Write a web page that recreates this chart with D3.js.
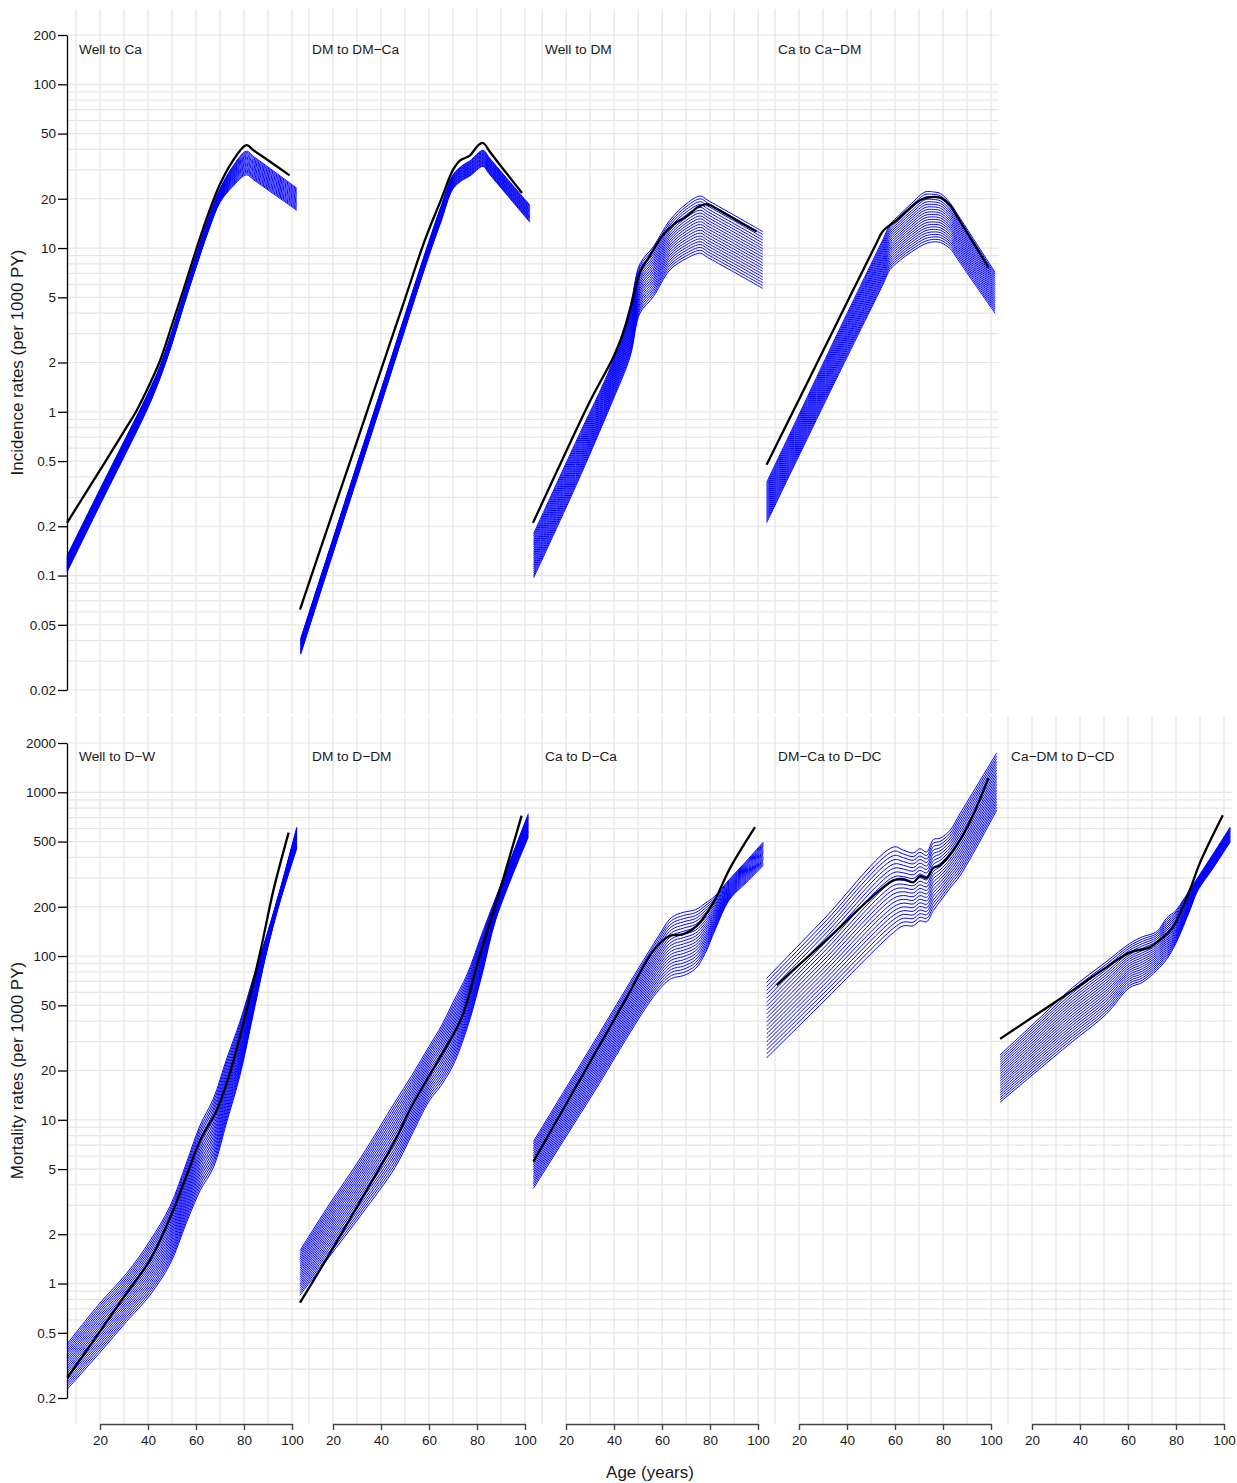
<!DOCTYPE html>
<html><head><meta charset="utf-8">
<script src="https://cdn.jsdelivr.net/npm/d3@7"></script>
<style>body{margin:0;background:#fff}</style>
</head><body>
<script>
// ---------- axis tick values ----------
const ageTicks = [20, 40, 60, 80, 100];
const gridAges = [10, 20, 30, 40, 50, 60, 70, 80, 90, 100];
const incidenceTicks = [0.02, 0.05, 0.1, 0.2, 0.5, 1, 2, 5, 10, 20, 50, 100, 200];
const mortalityTicks = [0.2, 0.5, 1, 2, 5, 10, 20, 50, 100, 200, 500, 1000, 2000];
const blueLevels = [0,0.05,0.1,0.15,0.2,0.25,0.3,0.35,0.4,0.45,0.5,0.55,0.6,0.65,0.7,0.75,0.8,0.85,0.9,0.95,1];

// ---------- Well to Ca ----------
const wellCaBlackAge = [6.25,20,30,35,40,45,50,55,60,65,70,75,81,84,90,99];
const wellCaBlackRate = [0.21,0.44,0.76,1.0,1.4,2.05,3.4,5.7,9.7,16,24.5,33.5,42.5,39.5,34.4,27.8];
const wellCaBlueAge = [6.25,20,30,40,45,50,55,60,65,70,75,81,84,91,102];
const wellCaBlueHigh = [0.132,0.337,0.66,1.3,1.9,3.1,5.3,9.0,15,23,31,39,36.2,30.5,23.2];
const wellCaBlueLow = [0.105,0.27,0.53,1.06,1.6,2.6,4.5,7.6,12.5,19,23.5,28,26.1,22.1,17];

// ---------- DM to DM-Ca ----------
const dmDmcaBlackAge = [6.25,20,30,40,50,58.3,65,70,73,77,80.5,82.5,85.5,90,98.75];
const dmDmcaBlackRate = [0.062,0.245,0.66,1.8,4.9,11.2,19.7,30,34.3,36.7,42.4,43.8,38.5,31.6,21.7];
const dmDmcaBlueAge = [6.5,20,40,50,60,65,70,74,77,82.5,85,92,102];
const dmDmcaBlueHigh = [0.041,0.168,1.36,3.9,11,18,28,32,34,39.5,35.8,27.1,18.3];
const dmDmcaBlueLow = [0.033,0.137,1.11,3.19,9,14.5,23,26,27.5,31.5,28.5,21.5,14.4];

// ---------- Well to DM ----------
const wellDmBlackAge = [6.25,20,30,40,45,48,51,55,60,65,70,75,78,80,83,90,99.4];
const wellDmBlackRate = [0.21,0.57,1.16,2.2,3.4,5.0,7.2,9,11.8,14,15.5,17.8,18.5,18.3,17.3,15.1,12.6];
const wellDmBlueAge = [6.5,24,39,46.7,50.8,56.4,63.3,70.3,76,79,89,102];
const wellDmBlueHigh = [0.18,0.65,1.95,4.4,8.0,10.2,14.8,18.7,20.8,19.6,16.2,12.6];
const wellDmBlueLow = [0.097,0.35,1.13,2.17,4.0,5.05,7.35,8.65,9.3,8.77,7.27,5.67];

// ---------- Ca to Ca-DM ----------
const caCadmBlackAge = [6.5,20,35,52,55,60.7,67.6,71.8,78.75,82.9,86,91,99];
const caCadmBlackRate = [0.475,1.19,3.31,10.5,12.7,14.8,18.3,20,20.3,18.3,15.5,11.8,7.6];
const caCadmBlueAge = [6.5,20,35,55,58,62,67,72.5,76,79,83,86,92,101.7];
const caCadmBlueHigh = [0.37,0.96,2.8,11.3,14,16,18.8,22,22,21.5,18.8,16.1,11.8,7.1];
const caCadmBlueLow = [0.21,0.54,1.53,6.0,7.4,8.4,9.5,10.6,10.9,10.8,9.9,8.6,6.4,4.0];

// ---------- Well to D-W ----------
const wellDwBlackAge = [6.4,20,30,40.8,49.2,56.1,61.7,68.6,72.8,78.3,86.7,92.2,98.6];
const wellDwBlackRate = [0.266,0.51,0.83,1.39,2.52,4.57,7.44,11.4,16.7,32.1,105,250,567];
const wellDwBlueAge = [6.4,20,31,40.8,49.2,56,61.7,67.2,72.8,78.3,83.9,89.4,95,102];
const wellDwBlueHigh = [0.43,0.76,1.15,1.82,2.97,5.45,9.25,13.4,23.6,39.7,74,133,254,612];
const wellDwBlueLow = [0.227,0.38,0.585,0.85,1.32,2.35,3.7,5.1,9.7,18.6,44.5,105,215,455];

// ---------- DM to D-DM ----------
const dmDdmBlackAge = [6.25,18,32,45.8,52.8,63.9,73.6,80.6,87.5,98.6];
const dmDdmBlackRate = [0.765,1.47,3.3,7.44,12.1,23.1,42,94.4,201,720];
const dmDdmBlueAge = [6.25,18,32,45.8,52.8,60,65,70,76,82,88,101.4];
const dmDdmBlueHigh = [1.59,2.97,6.0,12.8,18.6,28,37,52,78,136,231,740];
const dmDdmBlueLow = [0.85,1.43,2.66,5.1,8.1,13,16.2,21.5,36.7,76,170,533];

// ---------- Ca to D-Ca ----------
const caDcaBlackAge = [6.4,30,45,56.4,63.3,68.9,74.5,81.4,88.3,98.75];
const caDcaBlackRate = [5.55,22.5,54.8,107.9,133,136,153,212,343,612];
const caDcaBlueAge = [6.4,30,57.8,64,69,74,78,82,88,95,102.2];
const caDcaBlueHigh = [7.36,27.2,127,172,185,192,210,232,293,378,497];
const caDcaBlueLow = [3.81,13.5,59.9,73,76,84,104,143,220,280,358];

// ---------- DM-Ca to D-DC ----------
const dmcaDdcBlackAge = [10.7,30,59.3,63.5,67.6,70.4,73.2,76,78.75,85.7,92.6,98.9];
const dmcaDdcBlackRate = [66.5,119.8,290,295,282,308,300,345,358,475,730,1220];
const dmcaDdcBlueAge = [6.5,30,59.3,63.5,67.6,70.4,73.2,76,78.75,82.9,87.1,102.4];
const dmcaDdcBlueHigh = [73,166,463,443,426,452,432,515,524,585,740,1740];
const dmcaDdcBlueLow = [23.9,52.3,139,153,153,164,162,190,215,260,310,780];

// ---------- Ca-DM to D-CD ----------
const cadmDcdBlackAge = [6.7,20,36.8,50.8,60.6,69,73.2,78.8,85.8,90,99.5];
const cadmDcdBlackRate = [31.2,42.1,61.5,85,105,113,125,151,254,372,725];
const cadmDcdBlueAge = [6.7,20,36.8,50.8,60.6,66,72,76,80,83,86,89,95,102.6];
const cadmDcdBlueHigh = [24.9,37.8,64,92,119,131,141,170,190,220,256,300,410,613];
const cadmDcdBlueLow = [12.8,18.7,30,44,64,69,82,95,120,151,194,250,336,497];

const panelTitles = ["Well to Ca","DM to DM\u2212Ca","Well to DM","Ca to Ca\u2212DM",
  "Well to D\u2212W","DM to D\u2212DM","Ca to D\u2212Ca","DM\u2212Ca to D\u2212DC","Ca\u2212DM to D\u2212CD"];

const panels = [
  {row:0,col:0,title:panelTitles[0],bA:wellCaBlackAge,bV:wellCaBlackRate,uA:wellCaBlueAge,hi:wellCaBlueHigh,lo:wellCaBlueLow},
  {row:0,col:1,title:panelTitles[1],bA:dmDmcaBlackAge,bV:dmDmcaBlackRate,uA:dmDmcaBlueAge,hi:dmDmcaBlueHigh,lo:dmDmcaBlueLow},
  {row:0,col:2,title:panelTitles[2],bA:wellDmBlackAge,bV:wellDmBlackRate,uA:wellDmBlueAge,hi:wellDmBlueHigh,lo:wellDmBlueLow},
  {row:0,col:3,title:panelTitles[3],bA:caCadmBlackAge,bV:caCadmBlackRate,uA:caCadmBlueAge,hi:caCadmBlueHigh,lo:caCadmBlueLow},
  {row:1,col:0,title:panelTitles[4],bA:wellDwBlackAge,bV:wellDwBlackRate,uA:wellDwBlueAge,hi:wellDwBlueHigh,lo:wellDwBlueLow},
  {row:1,col:1,title:panelTitles[5],bA:dmDdmBlackAge,bV:dmDdmBlackRate,uA:dmDdmBlueAge,hi:dmDdmBlueHigh,lo:dmDdmBlueLow},
  {row:1,col:2,title:panelTitles[6],bA:caDcaBlackAge,bV:caDcaBlackRate,uA:caDcaBlueAge,hi:caDcaBlueHigh,lo:caDcaBlueLow},
  {row:1,col:3,title:panelTitles[7],bA:dmcaDdcBlackAge,bV:dmcaDdcBlackRate,uA:dmcaDdcBlueAge,hi:dmcaDdcBlueHigh,lo:dmcaDdcBlueLow},
  {row:1,col:4,title:panelTitles[8],bA:cadmDcdBlackAge,bV:cadmDcdBlackRate,uA:cadmDcdBlueAge,hi:cadmDcdBlueHigh,lo:cadmDcdBlueLow}
];

// ---------- layout ----------
const W = 1237, H = 1483, colW = 233, panelLeft = 67, panelW = 233;
const FONT = "'Liberation Sans', Arial, Helvetica, sans-serif";
const rows = [
  {top: 9, bottom: 714, ncol: 4, y: d3.scaleLog().domain([0.02, 200]).range([690, 35]),
   ticks: incidenceTicks, label: "Incidence rates (per 1000 PY)"},
  {top: 716, bottom: 1424, ncol: 5, y: d3.scaleLog().domain([0.2, 2000]).range([1398, 743]),
   ticks: mortalityTicks, label: "Mortality rates (per 1000 PY)"}
];
const xFor = col => d3.scaleLinear().domain([0, 100]).range([52 + colW * col, 292 + colW * col]);

const svg = d3.select("body").append("svg")
  .attr("width", W).attr("height", H)
  .style("font-family", FONT);

const gridColor = "#e5e5e5";

// ---------- grid ----------
rows.forEach(r => {
  const g = svg.append("g");
  const x0 = panelLeft, x1 = panelLeft + panelW * r.ncol;
  const [d0, d1] = r.y.domain();
  const vals = [];
  for (let e = Math.floor(Math.log10(d0)) - 1; e <= Math.ceil(Math.log10(d1)) + 1; e++) {
    for (let m = 1; m <= 9; m++) vals.push(m * Math.pow(10, e));
  }
  vals.forEach(v => {
    const yy = r.y(v);
    if (yy < r.top + 1 || yy > r.bottom - 1) return;
    g.append("line").attr("x1", x0).attr("x2", x1).attr("y1", yy).attr("y2", yy)
      .attr("stroke", gridColor).attr("stroke-width", 1.2);
  });
  for (let c = 0; c < r.ncol; c++) {
    const x = xFor(c);
    gridAges.forEach(a => {
      g.append("line").attr("x1", x(a)).attr("x2", x(a)).attr("y1", r.top).attr("y2", r.bottom)
        .attr("stroke", gridColor).attr("stroke-width", 1.2);
    });
  }
});

// ---------- curves ----------
panels.forEach(p => {
  const r = rows[p.row];
  const x = xFor(p.col);
  const y = r.y;
  const line = d3.line().x(d => x(d[0])).y(d => y(d[1])).curve(d3.curveCatmullRom.alpha(0.5));
  const g = svg.append("g");
  blueLevels.forEach(t => {
    const pts = p.uA.map((a, i) => [a, Math.exp(Math.log(p.lo[i]) * (1 - t) + Math.log(p.hi[i]) * t)]);
    g.append("path").attr("d", line(pts)).attr("fill", "none")
      .attr("stroke", "#0000ff").attr("stroke-width", 1);
  });
  g.append("path").attr("d", line(p.bA.map((a, i) => [a, p.bV[i]])))
    .attr("fill", "none").attr("stroke", "#000").attr("stroke-width", 2.3)
    .attr("stroke-linejoin", "round").attr("stroke-linecap", "butt");
  svg.append("text").attr("x", panelLeft + colW * p.col + 12).attr("y", r.top + 45)
    .attr("font-size", 13.7).attr("fill", "#1a1a1a").text(p.title);
});

// ---------- y axes ----------
rows.forEach(r => {
  const ax = svg.append("g").attr("transform", `translate(${panelLeft},0)`)
    .call(d3.axisLeft(r.y).tickValues(r.ticks).tickFormat(d => String(d))
      .tickSize(9).tickSizeOuter(0).tickPadding(2));
  ax.select(".domain").attr("stroke", "#000").attr("stroke-width", 1.3);
  ax.selectAll(".tick line").attr("stroke", "#000").attr("stroke-width", 1.3);
  ax.selectAll(".tick text").attr("font-size", 13.5).attr("font-family", FONT).attr("fill", "#1a1a1a");
  const mid = (r.y.range()[0] + r.y.range()[1]) / 2;
  svg.append("text").attr("transform", `translate(23,${mid}) rotate(-90)`)
    .attr("text-anchor", "middle").attr("font-size", 17).attr("fill", "#1a1a1a").text(r.label);
});

// ---------- x axes (bottom row) ----------
for (let c = 0; c < 5; c++) {
  const xs = d3.scaleLinear().domain([20, 100]).range([xFor(c)(20), xFor(c)(100)]);
  const ax = svg.append("g").attr("transform", `translate(0,1424)`)
    .call(d3.axisBottom(xs).tickValues(ageTicks).tickSize(6).tickSizeOuter(0).tickPadding(5));
  ax.select(".domain").attr("stroke", "#444").attr("stroke-width", 1.4);
  ax.selectAll(".tick line").attr("stroke", "#444").attr("stroke-width", 1.4);
  ax.selectAll(".tick text").attr("font-size", 13.5).attr("font-family", FONT).attr("fill", "#1a1a1a");
}
svg.append("text").attr("x", 650).attr("y", 1478).attr("text-anchor", "middle")
  .attr("font-size", 17).attr("fill", "#1a1a1a").text("Age (years)");
</script>
</body></html>
